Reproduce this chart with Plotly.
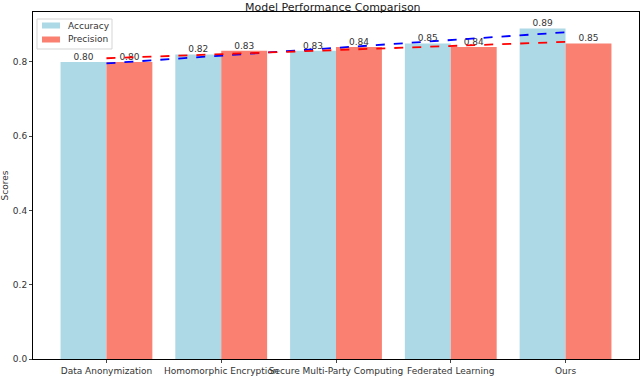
import numpy as np
import plotly.graph_objects as go

# Data
methods = ["Data Anonymization", "Homomorphic Encryption", "Secure Multi-Party Computing",
           "Federated Learning", "Ours"]
accuracy = [0.80, 0.82, 0.83, 0.85, 0.89]
precision = [0.80, 0.83, 0.84, 0.84, 0.85]
series_names = ["Accuracy", "Precision"]
series_colors = ["#ADD8E6", "#FA8072"]

x = np.arange(len(methods))
width = 0.4
font = "DejaVu Sans"

# plot area in pixels (matplotlib-like box)
L, R, T, B = 33, 639, 12, 359
W, H = 640, 376


def px(xp):
    return (xp - L) / (R - L)


def py(yp):
    return (B - yp) / (B - T)


fig = go.Figure()

fig.add_trace(go.Bar(x=x - width / 2, y=accuracy, width=width, name=series_names[0],
                     marker=dict(color=series_colors[0], line=dict(width=0)), showlegend=False))
fig.add_trace(go.Bar(x=x + width / 2, y=precision, width=width, name=series_names[1],
                     marker=dict(color=series_colors[1], line=dict(width=0)), showlegend=False))

# value labels above the bars
fig.add_trace(go.Scatter(x=np.concatenate([x - width / 2, x + width / 2]),
                         y=accuracy + precision, mode="text",
                         text=[f"{v:.2f}" for v in accuracy + precision],
                         textposition="top center", textfont=dict(size=9, color="#333333"),
                         showlegend=False, hoverinfo="skip", cliponaxis=False))

# linear trend lines
acc_fit = np.polyfit(x, accuracy, 1)
pre_fit = np.polyfit(x, precision, 1)
fig.add_trace(go.Scatter(x=x, y=np.polyval(acc_fit, x), mode="lines", showlegend=False,
                         line=dict(color="blue", dash="dash", width=1.8)))
fig.add_trace(go.Scatter(x=x, y=np.polyval(pre_fit, x), mode="lines", showlegend=False,
                         line=dict(color="red", dash="dash", width=1.8)))

# matplotlib-style legend box
fig.add_shape(type="rect", xref="paper", yref="paper",
              x0=px(37), x1=px(112), y0=py(49), y1=py(19),
              fillcolor="rgba(255,255,255,0.85)", line=dict(color="#d5d5d5", width=1))
for i, (name, col) in enumerate(zip(series_names, series_colors)):
    yc = 25.5 + i * 14
    fig.add_shape(type="rect", xref="paper", yref="paper",
                  x0=px(42), x1=px(60), y0=py(yc + 3), y1=py(yc - 3),
                  fillcolor=col, line=dict(width=0))
    fig.add_annotation(xref="paper", yref="paper", x=px(66), y=py(yc), text=name,
                       showarrow=False, xanchor="left", yanchor="middle",
                       font=dict(size=9, color="#333333"))

fig.update_layout(
    width=W, height=H,
    margin=dict(l=L, r=W - R, t=T, b=H - B),
    barmode="overlay",
    plot_bgcolor="white", paper_bgcolor="white",
    font=dict(family=font, size=9, color="#333333"),
    title=dict(text="Model Performance Comparison", x=0.52, xanchor="center",
               y=0.982, yanchor="middle", font=dict(size=11, color="#222222")),
    showlegend=False,
    xaxis=dict(range=[-0.64, 4.64], tickvals=list(x), ticktext=methods, tickangle=0,
               showline=True, linecolor="black", linewidth=1, mirror=True,
               ticks="outside", ticklen=3, showgrid=False, zeroline=False, automargin=False),
    yaxis=dict(range=[0, 0.9345], tickvals=[0, 0.2, 0.4, 0.6, 0.8], tickformat=".1f",
               title=dict(text="Scores", standoff=4, font=dict(size=9)),
               showline=True, linecolor="black", linewidth=1, mirror=True,
               ticks="outside", ticklen=3, showgrid=False, zeroline=False, automargin=False),
)

fig.write_html("out.html", config={"displayModeBar": False},
               post_script="document.body.style.margin='0';")
